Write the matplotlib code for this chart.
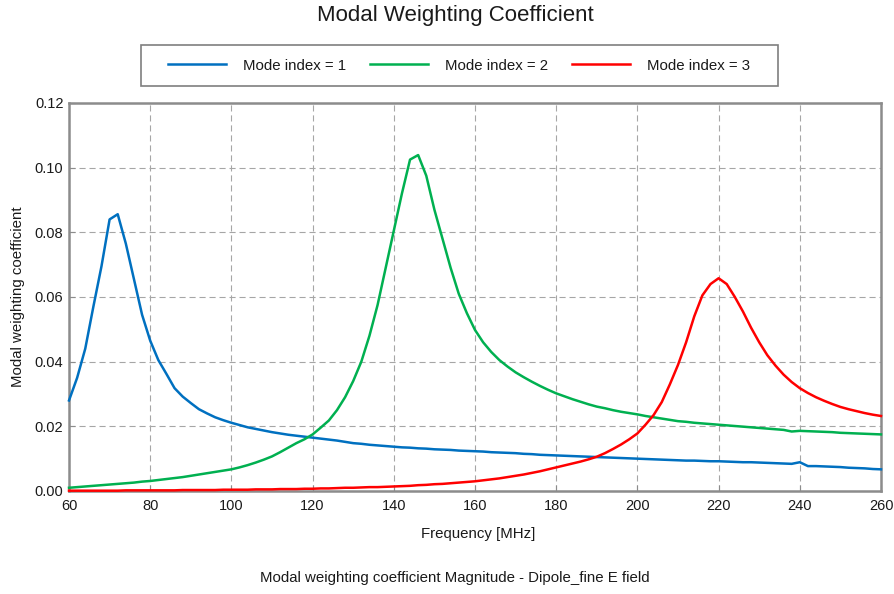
import matplotlib
matplotlib.use("Agg")
import matplotlib.pyplot as plt
from matplotlib.patches import Rectangle

plt.rcParams["font.family"] = ["Liberation Sans", "DejaVu Sans"]

# Frequency sweep in MHz (2 MHz step)
freq_mhz = list(range(60, 261, 2))

mode1 = [
    0.0280, 0.0350, 0.0440, 0.0570, 0.0695, 0.0840, 0.0856, 0.0765, 0.0655, 0.0545,  # 60-78
    0.0465, 0.0405, 0.0362, 0.0318, 0.0292, 0.0272, 0.0253, 0.0240, 0.0228, 0.0219,  # 80-98
    0.0211, 0.0204, 0.0197, 0.0192, 0.0187, 0.0182, 0.0178, 0.0174, 0.0171, 0.0168,  # 100-118
    0.0165, 0.0162, 0.0159, 0.0156, 0.0152, 0.0148, 0.0146, 0.0143, 0.0141, 0.0139,  # 120-138
    0.0137, 0.0135, 0.0134, 0.0132, 0.0131, 0.0129, 0.0128, 0.0127, 0.0125, 0.0124,  # 140-158
    0.0123, 0.0122, 0.0120, 0.0119, 0.0118, 0.0117, 0.0115, 0.0114, 0.0112, 0.0111,  # 160-178
    0.0110, 0.0109, 0.0108, 0.0107, 0.0106, 0.0105, 0.0104, 0.0103, 0.0102, 0.0101,  # 180-198
    0.0100, 0.0099, 0.0098, 0.0097, 0.0096, 0.0095, 0.0094, 0.0094, 0.0093, 0.0092,  # 200-218
    0.0092, 0.0091, 0.0090, 0.0089, 0.0089, 0.0088, 0.0087, 0.0086, 0.0085, 0.0084,  # 220-238
    0.0089, 0.0077, 0.0077, 0.0076, 0.0075, 0.0074, 0.0072, 0.0071, 0.0070, 0.0068,  # 240-258
    0.0067,                                                                          # 260
]

mode2 = [
    0.0010, 0.0012, 0.0014, 0.0016, 0.0018, 0.0020, 0.0022, 0.0024, 0.0026, 0.0029,  # 60-78
    0.0031, 0.0034, 0.0037, 0.0040, 0.0043, 0.0047, 0.0051, 0.0055, 0.0059, 0.0063,  # 80-98
    0.0067, 0.0073, 0.0080, 0.0088, 0.0097, 0.0107, 0.0120, 0.0134, 0.0148, 0.0160,  # 100-118
    0.0175, 0.0196, 0.0218, 0.0250, 0.0290, 0.0340, 0.0400, 0.0480, 0.0575, 0.0690,  # 120-138
    0.0805, 0.0920, 0.1025, 0.1039, 0.0975, 0.0870, 0.0780, 0.0690, 0.0610, 0.0550,  # 140-158
    0.0498, 0.0460, 0.0430, 0.0405, 0.0385, 0.0367, 0.0352, 0.0338, 0.0325, 0.0313,  # 160-178
    0.0302, 0.0293, 0.0284, 0.0276, 0.0268, 0.0261, 0.0256, 0.0250, 0.0245, 0.0241,  # 180-198
    0.0237, 0.0232, 0.0228, 0.0224, 0.0220, 0.0216, 0.0214, 0.0211, 0.0209, 0.0207,  # 200-218
    0.0205, 0.0203, 0.0201, 0.0199, 0.0197, 0.0195, 0.0193, 0.0191, 0.0189, 0.0184,  # 220-238
    0.0186, 0.0185, 0.0184, 0.0183, 0.0182, 0.0180, 0.0179, 0.0178, 0.0177, 0.0176,  # 240-258
    0.0175,                                                                          # 260
]

mode3 = [
    0.0001, 0.0001, 0.0001, 0.0001, 0.0001, 0.0001, 0.0001, 0.0002, 0.0002, 0.0002,  # 60-78
    0.0002, 0.0002, 0.0002, 0.0002, 0.0003, 0.0003, 0.0003, 0.0003, 0.0003, 0.0004,  # 80-98
    0.0004, 0.0004, 0.0004, 0.0005, 0.0005, 0.0005, 0.0006, 0.0006, 0.0006, 0.0007,  # 100-118
    0.0007, 0.0008, 0.0008, 0.0009, 0.0010, 0.0010, 0.0011, 0.0012, 0.0012, 0.0013,  # 120-138
    0.0014, 0.0015, 0.0016, 0.0018, 0.0019, 0.0021, 0.0022, 0.0024, 0.0026, 0.0028,  # 140-158
    0.0030, 0.0033, 0.0036, 0.0039, 0.0043, 0.0047, 0.0051, 0.0056, 0.0061, 0.0067,  # 160-178
    0.0073, 0.0079, 0.0085, 0.0091, 0.0098, 0.0106, 0.0117, 0.0130, 0.0144, 0.0160,  # 180-198
    0.0178, 0.0205, 0.0235, 0.0275, 0.0330, 0.0390, 0.0460, 0.0540, 0.0605, 0.0640,  # 200-218
    0.0658, 0.0640, 0.0600, 0.0555, 0.0505, 0.0460, 0.0420, 0.0388, 0.0360, 0.0337,  # 220-238
    0.0318, 0.0303, 0.0290, 0.0279, 0.0269, 0.0260, 0.0253, 0.0247, 0.0241, 0.0236,  # 240-258
    0.0232,                                                                          # 260
]

series_labels = ["Mode index = 1", "Mode index = 2", "Mode index = 3"]
series_colors = ["#0070C0", "#00B050", "#FF0000"]

x_ticks = [60, 80, 100, 120, 140, 160, 180, 200, 220, 240, 260]
y_ticks = [0.00, 0.02, 0.04, 0.06, 0.08, 0.10, 0.12]

W, H = 895, 594
fig = plt.figure(figsize=(W / 100, H / 100), dpi=100)
ax = fig.add_axes([69 / W, 1 - 491 / H, (881 - 69) / W, (491 - 103) / H])

handles = []
for values, label, color in zip([mode1, mode2, mode3], series_labels, series_colors):
    (ln,) = ax.plot(freq_mhz, values, color=color, lw=1.8, label=label, zorder=3,
                    clip_on=False)
    handles.append(ln)

ax.set_xlim(60, 260)
ax.set_ylim(0, 0.12)
ax.set_xticks(x_ticks)
ax.set_yticks(y_ticks)
ax.set_yticklabels([f"{v:.2f}" for v in y_ticks])

ax.grid(True, color="#a6a6a6", lw=0.8, linestyle=(0, (5.5, 3.5)))
ax.set_axisbelow(True)

for sp in ax.spines.values():
    sp.set_color("#8c8c8c")
    sp.set_linewidth(1.8)

text_color = "#1a1a1a"
label_size = 10.8
ax.tick_params(axis="both", direction="in", length=4, color="#8c8c8c",
               labelsize=10.5, labelcolor=text_color)
ax.tick_params(axis="x", pad=6)
ax.tick_params(axis="y", pad=4)

ax.set_xlabel("Frequency [MHz]", fontsize=label_size, color=text_color)
ax.set_ylabel("Modal weighting coefficient", fontsize=label_size, color=text_color)
ax.xaxis.set_label_coords(0.504, -0.094)
ax.yaxis.set_label_coords(-0.054, 0.5)

fig.text(0.509, 0.974, "Modal Weighting Coefficient", fontsize=16,
         ha="center", va="center", color=text_color)
fig.text(0.508, 0.027, "Modal weighting coefficient Magnitude - Dipole_fine E field",
         fontsize=label_size, ha="center", va="center", color=text_color)

# Legend entries with a square-cornered box drawn around them
leg = fig.legend(handles=handles, loc="center", bbox_to_anchor=(459 / W, 1 - 65.5 / H),
                 ncol=3, frameon=False, fontsize=label_size, handlelength=3.87,
                 handletextpad=1.13, columnspacing=1.6, borderpad=0.0,
                 labelcolor=text_color)
fig.patches.append(Rectangle((141 / W, 1 - 86 / H), 637 / W, 41 / H,
                             transform=fig.transFigure, fill=False,
                             edgecolor="#7f7f7f", lw=1.2))

fig.savefig("out.png", dpi=100)
